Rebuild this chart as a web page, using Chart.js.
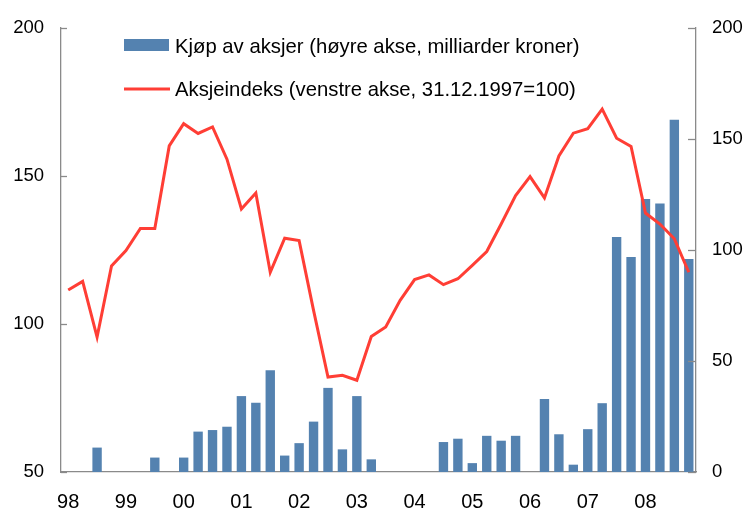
<!DOCTYPE html>
<html>
<head>
<meta charset="utf-8">
<script src="https://cdn.jsdelivr.net/npm/chart.js@4"></script>
<style>
  html, body { margin: 0; padding: 0; background: #fff; }
  #wrap { width: 751px; height: 514px; position: relative; }
</style>
</head>
<body>
<div id="wrap"><canvas id="chart" width="751" height="514"></canvas></div>
<script>
// Quarters 1998 K1 - 2008 K4
const years = ['98', '99', '00', '01', '02', '03', '04', '05', '06', '07', '08'];
const quarters = [];
years.forEach(y => { for (let q = 1; q <= 4; q++) quarters.push(y + 'K' + q); });

// Kjøp av aksjer (høyre akse, mrd kr)
const purchases = [
    null, null, 11, null, null, null, 6.5, null,
    6.5, 18.2, 18.9, 20.4, 34.2, 31.2, 45.8, 7.4,
    13, 22.7, 37.9, 10.2, 34.2, 5.7, null, null,
    null, null, 13.5, 15, 4, 16.3, 14.1, 16.3,
    null, 32.9, 17, 3.3, 19.3, 31, 105.9, 96.9,
    123, 121, 158.7, 96
];

// Aksjeindeks (venstre akse, 31.12.1997=100)
const stockIndex = [
    111.5, 114.4, 95.6, 119.6, 124.8, 132.3, 132.3, 160.2,
    167.7, 164.4, 166.6, 155.7, 138.9, 144.3, 117.5, 129,
    128.2, 104.6, 82.1, 82.7, 81, 95.8, 99, 108,
    115, 116.6, 113.3, 115.3, 119.8, 124.5, 133.8, 143.4,
    149.8, 142.6, 156.8, 164.5, 166, 172.6, 162.8, 160,
    137.5, 133.8, 128.8, 117.5
];

const legendLabels = [
    'Kjøp av aksjer (høyre akse, milliarder kroner)',
    'Aksjeindeks (venstre akse, 31.12.1997=100)'
];

const barColor = '#5482B0';
const lineColor = '#FF3E35';
const axisColor = '#8a8a8a';
const fontFamily = '"Liberation Sans", Arial, sans-serif';

// inward tick marks on the two y axes + legend inside the plot
const extras = {
    id: 'extras',
    afterDraw(chart) {
        const ctx = chart.ctx;
        ctx.save();
        ctx.strokeStyle = axisColor;
        ctx.lineWidth = 1.3;
        const yl = chart.scales.y;
        yl.ticks.forEach(t => {
            const py = Math.round(yl.getPixelForValue(t.value)) + 0.5;
            ctx.beginPath();
            ctx.moveTo(yl.right, py);
            ctx.lineTo(yl.right + 6, py);
            ctx.stroke();
        });
        const yr = chart.scales.y2;
        yr.ticks.forEach(t => {
            const py = Math.round(yr.getPixelForValue(t.value)) + 0.5;
            ctx.beginPath();
            ctx.moveTo(yr.left, py);
            ctx.lineTo(yr.left - 8, py);
            ctx.stroke();
        });

        // legend
        ctx.fillStyle = barColor;
        ctx.fillRect(124, 39, 45, 12);
        ctx.strokeStyle = lineColor;
        ctx.lineWidth = 3;
        ctx.beginPath();
        ctx.moveTo(124, 89);
        ctx.lineTo(170, 89);
        ctx.stroke();
        ctx.fillStyle = '#000';
        ctx.font = '20.3px ' + fontFamily;
        ctx.textBaseline = 'alphabetic';
        ctx.textAlign = 'left';
        ctx.fillText(legendLabels[0], 175, 52.5);
        ctx.fillText(legendLabels[1], 175, 95.5);
        ctx.restore();
    }
};

new Chart(document.getElementById('chart'), {
    type: 'bar',
    data: {
        labels: quarters,
        datasets: [
            {
                type: 'line',
                label: legendLabels[1],
                data: stockIndex,
                yAxisID: 'y',
                borderColor: lineColor,
                borderWidth: 3,
                pointRadius: 0,
                tension: 0,
                order: 0
            },
            {
                type: 'bar',
                label: legendLabels[0],
                data: purchases,
                yAxisID: 'y2',
                backgroundColor: barColor,
                borderWidth: 0,
                categoryPercentage: 1,
                barPercentage: 0.65,
                order: 1
            }
        ]
    },
    options: {
        responsive: false,
        animation: false,
        layout: { padding: { top: 28, left: 0, right: 0, bottom: 0 } },
        plugins: {
            legend: { display: false },
            tooltip: { enabled: false }
        },
        scales: {
            x: {
                offset: true,
                grid: { display: false, drawTicks: false },
                border: { color: axisColor, width: 1.3 },
                ticks: {
                    autoSkip: false,
                    maxRotation: 0,
                    padding: 18,
                    color: '#000',
                    font: { size: 20, family: fontFamily },
                    callback: (v, i) => (i % 4 === 0 ? years[i / 4] : '')
                },
                afterFit: s => { s.height = 42; }
            },
            y: {
                position: 'left',
                min: 50,
                max: 200,
                grid: { display: false, drawTicks: false },
                border: { color: axisColor, width: 1.3 },
                ticks: {
                    stepSize: 50,
                    padding: 17,
                    color: '#000',
                    font: { size: 18.5, family: fontFamily }
                },
                afterFit: s => { s.width = 61; }
            },
            y2: {
                position: 'right',
                min: 0,
                max: 200,
                grid: { display: false, drawTicks: false },
                border: { color: axisColor, width: 1.3 },
                ticks: {
                    stepSize: 50,
                    padding: 16,
                    color: '#000',
                    font: { size: 18.5, family: fontFamily }
                },
                afterFit: s => { s.width = 55; }
            }
        }
    },
    plugins: [extras]
});
</script>
</body>
</html>
